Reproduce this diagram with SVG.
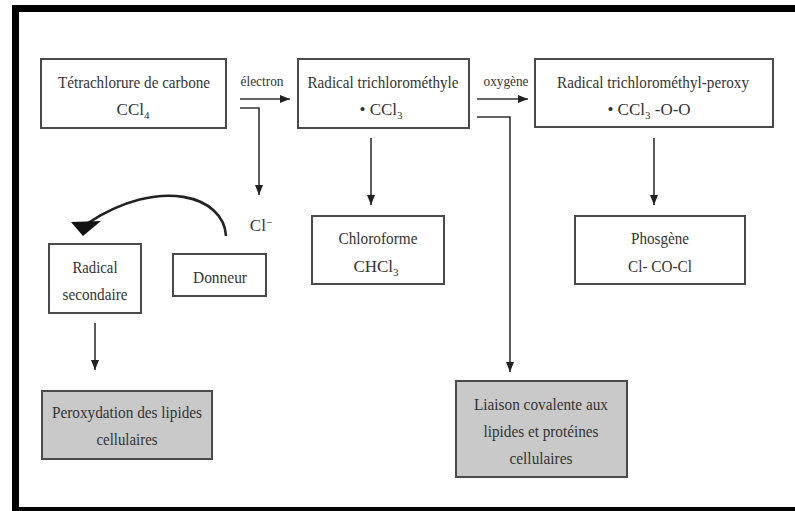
<svg xmlns="http://www.w3.org/2000/svg" width="795" height="511" viewBox="0 0 795 511">
<style>
.box{fill:#fff;stroke:#4a4a4a;stroke-width:2}
.gray{fill:#c9c9c9}
text{font-family:"Liberation Serif","Times New Roman",serif;font-size:17px;fill:#333;text-anchor:middle}
.sm{font-size:14px}
.ln{fill:none;stroke:#333;stroke-width:1.6}
</style>
<defs>
<marker id="ahv" viewBox="0 0 10 10" refX="10" refY="5" markerWidth="10" markerHeight="8" markerUnits="userSpaceOnUse" orient="auto" preserveAspectRatio="none">
<path d="M0,0 L10,5 L0,10 z" fill="#222"/>
</marker>
</defs>
<rect x="0" y="0" width="795" height="511" fill="#fff"/>
<g id="frame" fill="#000">
<rect x="12" y="5" width="783" height="7"/>
<rect x="12" y="5" width="7" height="506"/>
<rect x="12" y="507" width="783" height="4"/>
</g>
<g id="connectors">
<line class="ln" x1="240" y1="99" x2="290" y2="99" marker-end="url(#ahv)"/>
<polyline class="ln" points="240,108 259,108 259,195" marker-end="url(#ahv)"/>
<line class="ln" x1="477" y1="99" x2="528" y2="99" marker-end="url(#ahv)"/>
<polyline class="ln" points="477,117 510,117 510,372" marker-end="url(#ahv)"/>
<line class="ln" x1="371" y1="138" x2="371" y2="205" marker-end="url(#ahv)"/>
<line class="ln" x1="654" y1="138" x2="654" y2="205" marker-end="url(#ahv)"/>
<line class="ln" x1="95" y1="323" x2="95" y2="370" marker-end="url(#ahv)"/>
<path d="M226,236 C224,196 160,176 88,223" fill="none" stroke="#222" stroke-width="2.6"/>
<polygon points="71,222 101,221 83,236" fill="#111"/>
<text class="sm" x="262" y="86" textLength="43" lengthAdjust="spacingAndGlyphs">électron</text>
<text class="sm" x="506" y="86" textLength="45" lengthAdjust="spacingAndGlyphs">oxygène</text>
<text x="261" y="231" font-size="15">Cl<tspan font-size="11" dy="-5">−</tspan></text>
</g>
<g id="n-ccl4">
<rect class="box" x="41" y="59" width="185" height="69"/>
<text x="134" y="88" textLength="152" lengthAdjust="spacingAndGlyphs">Tétrachlorure de carbone</text>
<text x="133" y="115">CCl<tspan font-size="11" dy="4">4</tspan></text>
</g>
<g id="n-ccl3">
<rect class="box" x="298" y="59" width="171" height="69"/>
<text x="383" y="88" textLength="151" lengthAdjust="spacingAndGlyphs">Radical trichlorométhyle</text>
<text x="381" y="115">• CCl<tspan font-size="11" dy="4">3</tspan></text>
</g>
<g id="n-peroxy">
<rect class="box" x="535" y="59" width="238" height="68"/>
<text x="653" y="88" textLength="192" lengthAdjust="spacingAndGlyphs">Radical trichlorométhyl-peroxy</text>
<text x="649" y="115">• CCl<tspan font-size="11" dy="4">3</tspan><tspan dy="-4"> -O-O</tspan></text>
</g>
<g id="n-chloroforme">
<rect class="box" x="312" y="216" width="132" height="68"/>
<text x="378" y="244" textLength="79" lengthAdjust="spacingAndGlyphs">Chloroforme</text>
<text x="376" y="272">CHCl<tspan font-size="11" dy="4">3</tspan></text>
</g>
<g id="n-phosgene">
<rect class="box" x="575" y="216" width="170" height="68"/>
<text x="660" y="244" textLength="58" lengthAdjust="spacingAndGlyphs">Phosgène</text>
<text x="660" y="272" textLength="64" lengthAdjust="spacingAndGlyphs">Cl- CO-Cl</text>
</g>
<g id="n-radsec">
<rect class="box" x="49" y="244" width="92" height="69"/>
<text x="95" y="273" textLength="45" lengthAdjust="spacingAndGlyphs">Radical</text>
<text x="95" y="300" textLength="65" lengthAdjust="spacingAndGlyphs">secondaire</text>
</g>
<g id="n-donneur">
<rect class="box" x="173" y="254" width="93" height="42"/>
<text x="220" y="283" textLength="54" lengthAdjust="spacingAndGlyphs">Donneur</text>
</g>
<g id="n-peroxydation">
<rect class="box gray" x="42" y="391" width="170" height="68"/>
<text x="127" y="418" textLength="150" lengthAdjust="spacingAndGlyphs">Peroxydation des lipides</text>
<text x="127" y="445" textLength="61" lengthAdjust="spacingAndGlyphs">cellulaires</text>
</g>
<g id="n-liaison">
<rect class="box gray" x="456" y="381" width="171" height="96"/>
<text x="541" y="410" textLength="134" lengthAdjust="spacingAndGlyphs">Liaison covalente aux</text>
<text x="541" y="437" textLength="115" lengthAdjust="spacingAndGlyphs">lipides et protéines</text>
<text x="541" y="464" textLength="63" lengthAdjust="spacingAndGlyphs">cellulaires</text>
</g>
</svg>
